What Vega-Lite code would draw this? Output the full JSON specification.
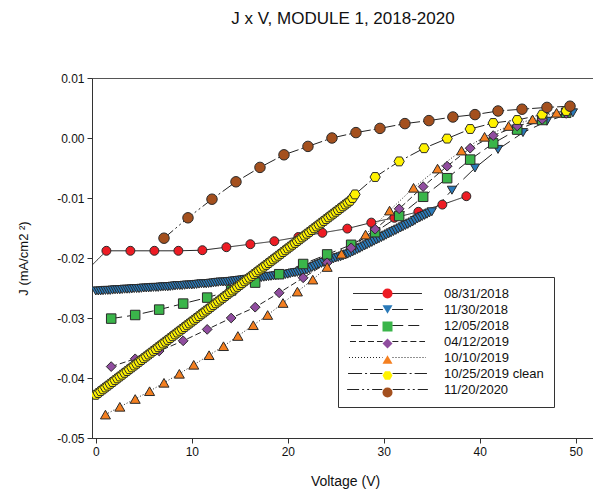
{
  "$schema": "https://vega.github.io/schema/vega-lite/v6.json",
  "autosize": {"type": "none"},
  "padding": {"left": 92, "top": 78, "right": 0, "bottom": 61},
  "width": 502,
  "height": 360,
  "title": {"text": "J x V, MODULE 1, 2018-2020", "fontSize": 17, "fontWeight": "normal", "font": "Liberation Sans", "anchor": "middle", "baseline": "middle", "offset": 36, "color": "#111"},
  "config": {
    "font": "Liberation Sans",
    "view": {"stroke": "#555", "strokeWidth": 1},
    "axis": {"grid": false, "domainColor": "#333", "tickColor": "#333", "labelColor": "#111", "titleColor": "#111", "labelFontSize": 12, "titleFontWeight": "normal", "tickSize": 5, "labelPadding": 3, "labelFont": "Liberation Sans", "titleFont": "Liberation Sans"}
  },
  "data": {"values": [
    {"series": "08/31/2018", "V": -0.4, "J": -0.0212},
    {"series": "08/31/2018", "V": 1.1, "J": -0.0188},
    {"series": "08/31/2018", "V": 3.6, "J": -0.0188},
    {"series": "08/31/2018", "V": 6.1, "J": -0.0188},
    {"series": "08/31/2018", "V": 8.6, "J": -0.0188},
    {"series": "08/31/2018", "V": 11.1, "J": -0.0187},
    {"series": "08/31/2018", "V": 13.6, "J": -0.0182},
    {"series": "08/31/2018", "V": 16.1, "J": -0.0177},
    {"series": "08/31/2018", "V": 18.6, "J": -0.0172},
    {"series": "08/31/2018", "V": 21.1, "J": -0.0165},
    {"series": "08/31/2018", "V": 23.6, "J": -0.0158},
    {"series": "08/31/2018", "V": 26.2, "J": -0.0151},
    {"series": "08/31/2018", "V": 28.7, "J": -0.0141},
    {"series": "08/31/2018", "V": 31.1, "J": -0.0133},
    {"series": "08/31/2018", "V": 33.6, "J": -0.0123},
    {"series": "08/31/2018", "V": 36.1, "J": -0.0111},
    {"series": "08/31/2018", "V": 38.6, "J": -0.0097},

    {"series": "11/30/2018", "V": 0.0, "J": -0.0255},
    {"series": "11/30/2018", "V": 0.25, "J": -0.0255},
    {"series": "11/30/2018", "V": 0.5, "J": -0.0255},
    {"series": "11/30/2018", "V": 0.75, "J": -0.02545},
    {"series": "11/30/2018", "V": 1.0, "J": -0.0254},
    {"series": "11/30/2018", "V": 1.25, "J": -0.0254},
    {"series": "11/30/2018", "V": 1.5, "J": -0.0254},
    {"series": "11/30/2018", "V": 1.75, "J": -0.02535},
    {"series": "11/30/2018", "V": 2.0, "J": -0.0253},
    {"series": "11/30/2018", "V": 2.25, "J": -0.0253},
    {"series": "11/30/2018", "V": 2.5, "J": -0.0253},
    {"series": "11/30/2018", "V": 2.75, "J": -0.02525},
    {"series": "11/30/2018", "V": 3.0, "J": -0.0252},
    {"series": "11/30/2018", "V": 3.25, "J": -0.0252},
    {"series": "11/30/2018", "V": 3.5, "J": -0.0252},
    {"series": "11/30/2018", "V": 3.75, "J": -0.02515},
    {"series": "11/30/2018", "V": 4.0, "J": -0.0251},
    {"series": "11/30/2018", "V": 4.25, "J": -0.0251},
    {"series": "11/30/2018", "V": 4.5, "J": -0.0251},
    {"series": "11/30/2018", "V": 4.75, "J": -0.02505},
    {"series": "11/30/2018", "V": 5.0, "J": -0.0250},
    {"series": "11/30/2018", "V": 5.25, "J": -0.0250},
    {"series": "11/30/2018", "V": 5.5, "J": -0.0250},
    {"series": "11/30/2018", "V": 5.75, "J": -0.02495},
    {"series": "11/30/2018", "V": 6.0, "J": -0.0249},
    {"series": "11/30/2018", "V": 6.25, "J": -0.0249},
    {"series": "11/30/2018", "V": 6.5, "J": -0.0249},
    {"series": "11/30/2018", "V": 6.75, "J": -0.02485},
    {"series": "11/30/2018", "V": 7.0, "J": -0.0248},
    {"series": "11/30/2018", "V": 7.25, "J": -0.0248},
    {"series": "11/30/2018", "V": 7.5, "J": -0.0248},
    {"series": "11/30/2018", "V": 7.75, "J": -0.02475},
    {"series": "11/30/2018", "V": 8.0, "J": -0.0247},
    {"series": "11/30/2018", "V": 8.25, "J": -0.02465},
    {"series": "11/30/2018", "V": 8.5, "J": -0.0246},
    {"series": "11/30/2018", "V": 8.75, "J": -0.0246},
    {"series": "11/30/2018", "V": 9.0, "J": -0.0246},
    {"series": "11/30/2018", "V": 9.25, "J": -0.02455},
    {"series": "11/30/2018", "V": 9.5, "J": -0.0245},
    {"series": "11/30/2018", "V": 9.75, "J": -0.0245},
    {"series": "11/30/2018", "V": 10.0, "J": -0.0245},
    {"series": "11/30/2018", "V": 10.25, "J": -0.02445},
    {"series": "11/30/2018", "V": 10.5, "J": -0.0244},
    {"series": "11/30/2018", "V": 10.75, "J": -0.02435},
    {"series": "11/30/2018", "V": 11.0, "J": -0.0243},
    {"series": "11/30/2018", "V": 11.25, "J": -0.0243},
    {"series": "11/30/2018", "V": 11.5, "J": -0.0243},
    {"series": "11/30/2018", "V": 11.75, "J": -0.02425},
    {"series": "11/30/2018", "V": 12.0, "J": -0.0242},
    {"series": "11/30/2018", "V": 12.25, "J": -0.02415},
    {"series": "11/30/2018", "V": 12.5, "J": -0.0241},
    {"series": "11/30/2018", "V": 12.75, "J": -0.02405},
    {"series": "11/30/2018", "V": 13.0, "J": -0.0240},
    {"series": "11/30/2018", "V": 13.25, "J": -0.0240},
    {"series": "11/30/2018", "V": 13.5, "J": -0.0240},
    {"series": "11/30/2018", "V": 13.75, "J": -0.02395},
    {"series": "11/30/2018", "V": 14.0, "J": -0.0239},
    {"series": "11/30/2018", "V": 14.25, "J": -0.02385},
    {"series": "11/30/2018", "V": 14.5, "J": -0.0238},
    {"series": "11/30/2018", "V": 14.75, "J": -0.02375},
    {"series": "11/30/2018", "V": 15.0, "J": -0.0237},
    {"series": "11/30/2018", "V": 15.25, "J": -0.02365},
    {"series": "11/30/2018", "V": 15.5, "J": -0.0236},
    {"series": "11/30/2018", "V": 15.75, "J": -0.02355},
    {"series": "11/30/2018", "V": 16.0, "J": -0.0235},
    {"series": "11/30/2018", "V": 16.25, "J": -0.02345},
    {"series": "11/30/2018", "V": 16.5, "J": -0.0234},
    {"series": "11/30/2018", "V": 16.75, "J": -0.02335},
    {"series": "11/30/2018", "V": 17.0, "J": -0.0233},
    {"series": "11/30/2018", "V": 17.25, "J": -0.02325},
    {"series": "11/30/2018", "V": 17.5, "J": -0.0232},
    {"series": "11/30/2018", "V": 17.75, "J": -0.02315},
    {"series": "11/30/2018", "V": 18.0, "J": -0.0231},
    {"series": "11/30/2018", "V": 18.25, "J": -0.02305},
    {"series": "11/30/2018", "V": 18.5, "J": -0.0230},
    {"series": "11/30/2018", "V": 18.75, "J": -0.02295},
    {"series": "11/30/2018", "V": 19.0, "J": -0.0229},
    {"series": "11/30/2018", "V": 19.25, "J": -0.02285},
    {"series": "11/30/2018", "V": 19.5, "J": -0.0228},
    {"series": "11/30/2018", "V": 19.75, "J": -0.02275},
    {"series": "11/30/2018", "V": 20.0, "J": -0.0227},
    {"series": "11/30/2018", "V": 20.25, "J": -0.0226},
    {"series": "11/30/2018", "V": 20.5, "J": -0.0225},
    {"series": "11/30/2018", "V": 20.75, "J": -0.02245},
    {"series": "11/30/2018", "V": 21.0, "J": -0.0224},
    {"series": "11/30/2018", "V": 21.25, "J": -0.0223},
    {"series": "11/30/2018", "V": 21.5, "J": -0.0222},
    {"series": "11/30/2018", "V": 21.75, "J": -0.0221},
    {"series": "11/30/2018", "V": 22.0, "J": -0.0220},
    {"series": "11/30/2018", "V": 22.25, "J": -0.0218},
    {"series": "11/30/2018", "V": 22.5, "J": -0.0216},
    {"series": "11/30/2018", "V": 22.75, "J": -0.0214},
    {"series": "11/30/2018", "V": 23.0, "J": -0.0212},
    {"series": "11/30/2018", "V": 23.25, "J": -0.02105},
    {"series": "11/30/2018", "V": 23.5, "J": -0.0209},
    {"series": "11/30/2018", "V": 23.75, "J": -0.02075},
    {"series": "11/30/2018", "V": 24.0, "J": -0.0206},
    {"series": "11/30/2018", "V": 24.25, "J": -0.02045},
    {"series": "11/30/2018", "V": 24.5, "J": -0.0203},
    {"series": "11/30/2018", "V": 24.75, "J": -0.02015},
    {"series": "11/30/2018", "V": 25.0, "J": -0.0200},
    {"series": "11/30/2018", "V": 25.25, "J": -0.0199},
    {"series": "11/30/2018", "V": 25.5, "J": -0.0198},
    {"series": "11/30/2018", "V": 25.75, "J": -0.01965},
    {"series": "11/30/2018", "V": 26.0, "J": -0.0195},
    {"series": "11/30/2018", "V": 26.25, "J": -0.01935},
    {"series": "11/30/2018", "V": 26.5, "J": -0.0192},
    {"series": "11/30/2018", "V": 26.75, "J": -0.0190},
    {"series": "11/30/2018", "V": 27.0, "J": -0.0188},
    {"series": "11/30/2018", "V": 27.25, "J": -0.0186},
    {"series": "11/30/2018", "V": 27.5, "J": -0.0184},
    {"series": "11/30/2018", "V": 27.75, "J": -0.0182},
    {"series": "11/30/2018", "V": 28.0, "J": -0.0180},
    {"series": "11/30/2018", "V": 28.25, "J": -0.0178},
    {"series": "11/30/2018", "V": 28.5, "J": -0.0176},
    {"series": "11/30/2018", "V": 28.75, "J": -0.0174},
    {"series": "11/30/2018", "V": 29.0, "J": -0.0172},
    {"series": "11/30/2018", "V": 29.25, "J": -0.0170},
    {"series": "11/30/2018", "V": 29.5, "J": -0.0168},
    {"series": "11/30/2018", "V": 29.75, "J": -0.0166},
    {"series": "11/30/2018", "V": 30.0, "J": -0.0164},
    {"series": "11/30/2018", "V": 30.25, "J": -0.0162},
    {"series": "11/30/2018", "V": 30.5, "J": -0.0160},
    {"series": "11/30/2018", "V": 30.75, "J": -0.0158},
    {"series": "11/30/2018", "V": 31.0, "J": -0.0156},
    {"series": "11/30/2018", "V": 31.25, "J": -0.0154},
    {"series": "11/30/2018", "V": 31.5, "J": -0.0152},
    {"series": "11/30/2018", "V": 31.75, "J": -0.0150},
    {"series": "11/30/2018", "V": 32.0, "J": -0.0148},
    {"series": "11/30/2018", "V": 32.25, "J": -0.0146},
    {"series": "11/30/2018", "V": 32.5, "J": -0.0144},
    {"series": "11/30/2018", "V": 32.75, "J": -0.0142},
    {"series": "11/30/2018", "V": 33.0, "J": -0.0140},
    {"series": "11/30/2018", "V": 33.25, "J": -0.01375},
    {"series": "11/30/2018", "V": 33.5, "J": -0.0135},
    {"series": "11/30/2018", "V": 33.75, "J": -0.0133},
    {"series": "11/30/2018", "V": 34.0, "J": -0.0131},
    {"series": "11/30/2018", "V": 34.25, "J": -0.0129},
    {"series": "11/30/2018", "V": 34.5, "J": -0.0127},
    {"series": "11/30/2018", "V": 34.75, "J": -0.0125},
    {"series": "11/30/2018", "V": 35.0, "J": -0.0123},
    {"series": "11/30/2018", "V": 37.1, "J": -0.0087},
    {"series": "11/30/2018", "V": 39.5, "J": -0.0050},
    {"series": "11/30/2018", "V": 41.9, "J": -0.0019},
    {"series": "11/30/2018", "V": 44.5, "J": 0.0009},
    {"series": "11/30/2018", "V": 47.0, "J": 0.0028},
    {"series": "11/30/2018", "V": 49.7, "J": 0.0042},

    {"series": "12/05/2018", "V": 1.6, "J": -0.0301},
    {"series": "12/05/2018", "V": 4.1, "J": -0.0295},
    {"series": "12/05/2018", "V": 6.6, "J": -0.0286},
    {"series": "12/05/2018", "V": 9.1, "J": -0.0276},
    {"series": "12/05/2018", "V": 11.6, "J": -0.0266},
    {"series": "12/05/2018", "V": 14.1, "J": -0.0254},
    {"series": "12/05/2018", "V": 16.6, "J": -0.0241},
    {"series": "12/05/2018", "V": 19.1, "J": -0.0227},
    {"series": "12/05/2018", "V": 21.6, "J": -0.0210},
    {"series": "12/05/2018", "V": 24.1, "J": -0.0194},
    {"series": "12/05/2018", "V": 26.6, "J": -0.0178},
    {"series": "12/05/2018", "V": 29.1, "J": -0.0157},
    {"series": "12/05/2018", "V": 31.6, "J": -0.0130},
    {"series": "12/05/2018", "V": 34.1, "J": -0.0098},
    {"series": "12/05/2018", "V": 36.6, "J": -0.0067},
    {"series": "12/05/2018", "V": 39.0, "J": -0.0036},
    {"series": "12/05/2018", "V": 41.4, "J": -0.0009},
    {"series": "12/05/2018", "V": 43.9, "J": 0.0014},
    {"series": "12/05/2018", "V": 46.5, "J": 0.0030},
    {"series": "12/05/2018", "V": 49.0, "J": 0.0042},

    {"series": "04/12/2019", "V": 1.6, "J": -0.0381},
    {"series": "04/12/2019", "V": 4.1, "J": -0.0368},
    {"series": "04/12/2019", "V": 6.6, "J": -0.0355},
    {"series": "04/12/2019", "V": 9.1, "J": -0.0338},
    {"series": "04/12/2019", "V": 11.6, "J": -0.0319},
    {"series": "04/12/2019", "V": 14.1, "J": -0.0300},
    {"series": "04/12/2019", "V": 16.6, "J": -0.0282},
    {"series": "04/12/2019", "V": 19.1, "J": -0.0258},
    {"series": "04/12/2019", "V": 21.6, "J": -0.0233},
    {"series": "04/12/2019", "V": 24.1, "J": -0.0208},
    {"series": "04/12/2019", "V": 26.6, "J": -0.0183},
    {"series": "04/12/2019", "V": 29.1, "J": -0.0152},
    {"series": "04/12/2019", "V": 31.6, "J": -0.0118},
    {"series": "04/12/2019", "V": 34.1, "J": -0.0081},
    {"series": "04/12/2019", "V": 36.6, "J": -0.0047},
    {"series": "04/12/2019", "V": 39.0, "J": -0.0017},
    {"series": "04/12/2019", "V": 41.4, "J": 0.0004},
    {"series": "04/12/2019", "V": 43.9, "J": 0.0020},
    {"series": "04/12/2019", "V": 46.5, "J": 0.0031},
    {"series": "04/12/2019", "V": 49.0, "J": 0.0041},

    {"series": "10/10/2019", "V": 1.0, "J": -0.0461},
    {"series": "10/10/2019", "V": 2.5, "J": -0.0448},
    {"series": "10/10/2019", "V": 4.1, "J": -0.0435},
    {"series": "10/10/2019", "V": 5.6, "J": -0.0422},
    {"series": "10/10/2019", "V": 7.1, "J": -0.0408},
    {"series": "10/10/2019", "V": 8.7, "J": -0.0393},
    {"series": "10/10/2019", "V": 10.2, "J": -0.0378},
    {"series": "10/10/2019", "V": 11.8, "J": -0.0362},
    {"series": "10/10/2019", "V": 13.3, "J": -0.0347},
    {"series": "10/10/2019", "V": 14.8, "J": -0.0330},
    {"series": "10/10/2019", "V": 16.4, "J": -0.0312},
    {"series": "10/10/2019", "V": 17.9, "J": -0.0295},
    {"series": "10/10/2019", "V": 19.5, "J": -0.0275},
    {"series": "10/10/2019", "V": 21.0, "J": -0.0256},
    {"series": "10/10/2019", "V": 22.6, "J": -0.0236},
    {"series": "10/10/2019", "V": 24.1, "J": -0.0215},
    {"series": "10/10/2019", "V": 25.6, "J": -0.0193},
    {"series": "10/10/2019", "V": 28.1, "J": -0.0161},
    {"series": "10/10/2019", "V": 30.6, "J": -0.0121},
    {"series": "10/10/2019", "V": 33.1, "J": -0.0083},
    {"series": "10/10/2019", "V": 35.6, "J": -0.0051},
    {"series": "10/10/2019", "V": 38.1, "J": -0.0021},
    {"series": "10/10/2019", "V": 40.5, "J": 0.0002},
    {"series": "10/10/2019", "V": 43.0, "J": 0.0020},
    {"series": "10/10/2019", "V": 45.5, "J": 0.0031},
    {"series": "10/10/2019", "V": 48.0, "J": 0.0042},

    {"series": "10/25/2019 clean", "V": 0.0, "J": -0.0428},
    {"series": "10/25/2019 clean", "V": 0.25, "J": -0.04250},
    {"series": "10/25/2019 clean", "V": 0.5, "J": -0.04219},
    {"series": "10/25/2019 clean", "V": 0.75, "J": -0.04189},
    {"series": "10/25/2019 clean", "V": 1.0, "J": -0.04158},
    {"series": "10/25/2019 clean", "V": 1.25, "J": -0.04128},
    {"series": "10/25/2019 clean", "V": 1.5, "J": -0.04097},
    {"series": "10/25/2019 clean", "V": 1.75, "J": -0.04067},
    {"series": "10/25/2019 clean", "V": 2.0, "J": -0.04036},
    {"series": "10/25/2019 clean", "V": 2.25, "J": -0.04006},
    {"series": "10/25/2019 clean", "V": 2.5, "J": -0.03975},
    {"series": "10/25/2019 clean", "V": 2.75, "J": -0.03945},
    {"series": "10/25/2019 clean", "V": 3.0, "J": -0.03914},
    {"series": "10/25/2019 clean", "V": 3.25, "J": -0.03884},
    {"series": "10/25/2019 clean", "V": 3.5, "J": -0.03853},
    {"series": "10/25/2019 clean", "V": 3.75, "J": -0.03823},
    {"series": "10/25/2019 clean", "V": 4.0, "J": -0.03792},
    {"series": "10/25/2019 clean", "V": 4.25, "J": -0.03762},
    {"series": "10/25/2019 clean", "V": 4.5, "J": -0.03731},
    {"series": "10/25/2019 clean", "V": 4.75, "J": -0.03701},
    {"series": "10/25/2019 clean", "V": 5.0, "J": -0.03670},
    {"series": "10/25/2019 clean", "V": 5.25, "J": -0.03640},
    {"series": "10/25/2019 clean", "V": 5.5, "J": -0.03609},
    {"series": "10/25/2019 clean", "V": 5.75, "J": -0.03579},
    {"series": "10/25/2019 clean", "V": 6.0, "J": -0.03548},
    {"series": "10/25/2019 clean", "V": 6.25, "J": -0.03518},
    {"series": "10/25/2019 clean", "V": 6.5, "J": -0.03487},
    {"series": "10/25/2019 clean", "V": 6.75, "J": -0.03457},
    {"series": "10/25/2019 clean", "V": 7.0, "J": -0.03426},
    {"series": "10/25/2019 clean", "V": 7.25, "J": -0.03396},
    {"series": "10/25/2019 clean", "V": 7.5, "J": -0.03365},
    {"series": "10/25/2019 clean", "V": 7.75, "J": -0.03335},
    {"series": "10/25/2019 clean", "V": 8.0, "J": -0.03304},
    {"series": "10/25/2019 clean", "V": 8.25, "J": -0.03274},
    {"series": "10/25/2019 clean", "V": 8.5, "J": -0.03243},
    {"series": "10/25/2019 clean", "V": 8.75, "J": -0.03213},
    {"series": "10/25/2019 clean", "V": 9.0, "J": -0.03182},
    {"series": "10/25/2019 clean", "V": 9.25, "J": -0.03152},
    {"series": "10/25/2019 clean", "V": 9.5, "J": -0.03121},
    {"series": "10/25/2019 clean", "V": 9.75, "J": -0.03091},
    {"series": "10/25/2019 clean", "V": 10.0, "J": -0.03060},
    {"series": "10/25/2019 clean", "V": 10.25, "J": -0.03030},
    {"series": "10/25/2019 clean", "V": 10.5, "J": -0.02999},
    {"series": "10/25/2019 clean", "V": 10.75, "J": -0.02969},
    {"series": "10/25/2019 clean", "V": 11.0, "J": -0.02938},
    {"series": "10/25/2019 clean", "V": 11.25, "J": -0.02908},
    {"series": "10/25/2019 clean", "V": 11.5, "J": -0.02877},
    {"series": "10/25/2019 clean", "V": 11.75, "J": -0.02847},
    {"series": "10/25/2019 clean", "V": 12.0, "J": -0.02816},
    {"series": "10/25/2019 clean", "V": 12.25, "J": -0.02786},
    {"series": "10/25/2019 clean", "V": 12.5, "J": -0.02755},
    {"series": "10/25/2019 clean", "V": 12.75, "J": -0.02725},
    {"series": "10/25/2019 clean", "V": 13.0, "J": -0.02694},
    {"series": "10/25/2019 clean", "V": 13.25, "J": -0.02664},
    {"series": "10/25/2019 clean", "V": 13.5, "J": -0.02633},
    {"series": "10/25/2019 clean", "V": 13.75, "J": -0.02603},
    {"series": "10/25/2019 clean", "V": 14.0, "J": -0.02572},
    {"series": "10/25/2019 clean", "V": 14.25, "J": -0.02542},
    {"series": "10/25/2019 clean", "V": 14.5, "J": -0.02511},
    {"series": "10/25/2019 clean", "V": 14.75, "J": -0.02481},
    {"series": "10/25/2019 clean", "V": 15.0, "J": -0.02450},
    {"series": "10/25/2019 clean", "V": 15.25, "J": -0.02420},
    {"series": "10/25/2019 clean", "V": 15.5, "J": -0.02389},
    {"series": "10/25/2019 clean", "V": 15.75, "J": -0.02359},
    {"series": "10/25/2019 clean", "V": 16.0, "J": -0.02328},
    {"series": "10/25/2019 clean", "V": 16.25, "J": -0.02298},
    {"series": "10/25/2019 clean", "V": 16.5, "J": -0.02267},
    {"series": "10/25/2019 clean", "V": 16.75, "J": -0.02237},
    {"series": "10/25/2019 clean", "V": 17.0, "J": -0.02206},
    {"series": "10/25/2019 clean", "V": 17.25, "J": -0.02176},
    {"series": "10/25/2019 clean", "V": 17.5, "J": -0.02145},
    {"series": "10/25/2019 clean", "V": 17.75, "J": -0.02115},
    {"series": "10/25/2019 clean", "V": 18.0, "J": -0.02084},
    {"series": "10/25/2019 clean", "V": 18.25, "J": -0.02054},
    {"series": "10/25/2019 clean", "V": 18.5, "J": -0.02023},
    {"series": "10/25/2019 clean", "V": 18.75, "J": -0.01993},
    {"series": "10/25/2019 clean", "V": 19.0, "J": -0.01962},
    {"series": "10/25/2019 clean", "V": 19.25, "J": -0.01932},
    {"series": "10/25/2019 clean", "V": 19.5, "J": -0.01901},
    {"series": "10/25/2019 clean", "V": 19.75, "J": -0.01871},
    {"series": "10/25/2019 clean", "V": 20.0, "J": -0.01840},
    {"series": "10/25/2019 clean", "V": 20.25, "J": -0.01810},
    {"series": "10/25/2019 clean", "V": 20.5, "J": -0.01779},
    {"series": "10/25/2019 clean", "V": 20.75, "J": -0.01749},
    {"series": "10/25/2019 clean", "V": 21.0, "J": -0.01718},
    {"series": "10/25/2019 clean", "V": 21.25, "J": -0.01688},
    {"series": "10/25/2019 clean", "V": 21.5, "J": -0.01657},
    {"series": "10/25/2019 clean", "V": 21.75, "J": -0.01627},
    {"series": "10/25/2019 clean", "V": 22.0, "J": -0.01596},
    {"series": "10/25/2019 clean", "V": 22.25, "J": -0.01566},
    {"series": "10/25/2019 clean", "V": 22.5, "J": -0.01535},
    {"series": "10/25/2019 clean", "V": 22.75, "J": -0.01505},
    {"series": "10/25/2019 clean", "V": 23.0, "J": -0.01474},
    {"series": "10/25/2019 clean", "V": 23.25, "J": -0.01444},
    {"series": "10/25/2019 clean", "V": 23.5, "J": -0.01413},
    {"series": "10/25/2019 clean", "V": 23.75, "J": -0.01383},
    {"series": "10/25/2019 clean", "V": 24.0, "J": -0.01352},
    {"series": "10/25/2019 clean", "V": 24.25, "J": -0.01322},
    {"series": "10/25/2019 clean", "V": 24.5, "J": -0.01291},
    {"series": "10/25/2019 clean", "V": 24.75, "J": -0.01261},
    {"series": "10/25/2019 clean", "V": 25.0, "J": -0.01230},
    {"series": "10/25/2019 clean", "V": 25.25, "J": -0.01200},
    {"series": "10/25/2019 clean", "V": 25.5, "J": -0.01169},
    {"series": "10/25/2019 clean", "V": 25.75, "J": -0.01139},
    {"series": "10/25/2019 clean", "V": 26.0, "J": -0.01108},
    {"series": "10/25/2019 clean", "V": 26.25, "J": -0.01078},
    {"series": "10/25/2019 clean", "V": 26.5, "J": -0.01047},
    {"series": "10/25/2019 clean", "V": 26.75, "J": -0.01000},
    {"series": "10/25/2019 clean", "V": 27.0, "J": -0.0094},
    {"series": "10/25/2019 clean", "V": 29.1, "J": -0.0065},
    {"series": "10/25/2019 clean", "V": 31.6, "J": -0.0039},
    {"series": "10/25/2019 clean", "V": 34.2, "J": -0.0017},
    {"series": "10/25/2019 clean", "V": 36.6, "J": -0.0001},
    {"series": "10/25/2019 clean", "V": 39.0, "J": 0.0015},
    {"series": "10/25/2019 clean", "V": 41.4, "J": 0.0025},
    {"series": "10/25/2019 clean", "V": 43.9, "J": 0.0030},
    {"series": "10/25/2019 clean", "V": 46.5, "J": 0.0039},
    {"series": "10/25/2019 clean", "V": 49.0, "J": 0.0045},

    {"series": "11/20/2020", "V": 7.1, "J": -0.0167},
    {"series": "11/20/2020", "V": 9.6, "J": -0.0133},
    {"series": "11/20/2020", "V": 12.1, "J": -0.0102},
    {"series": "11/20/2020", "V": 14.6, "J": -0.0073},
    {"series": "11/20/2020", "V": 17.1, "J": -0.0049},
    {"series": "11/20/2020", "V": 19.6, "J": -0.0028},
    {"series": "11/20/2020", "V": 22.1, "J": -0.0014},
    {"series": "11/20/2020", "V": 24.6, "J": 0.0000},
    {"series": "11/20/2020", "V": 27.1, "J": 0.0009},
    {"series": "11/20/2020", "V": 29.6, "J": 0.0016},
    {"series": "11/20/2020", "V": 32.2, "J": 0.0024},
    {"series": "11/20/2020", "V": 34.7, "J": 0.0029},
    {"series": "11/20/2020", "V": 37.2, "J": 0.0035},
    {"series": "11/20/2020", "V": 39.5, "J": 0.0039},
    {"series": "11/20/2020", "V": 41.9, "J": 0.0045},
    {"series": "11/20/2020", "V": 44.4, "J": 0.0048},
    {"series": "11/20/2020", "V": 47.0, "J": 0.0051},
    {"series": "11/20/2020", "V": 49.4, "J": 0.0053}
  ]},
  "encoding": {
    "x": {"field": "V", "type": "quantitative", "scale": {"domain": [-0.4, 51.9], "nice": false, "zero": false},
      "axis": {"values": [0, 10, 20, 30, 40, 50], "format": "d", "title": "Voltage (V)", "titleFontSize": 14, "titleX": 253, "titleY": 43, "titleBaseline": "middle"}},
    "y": {"field": "J", "type": "quantitative", "scale": {"domain": [-0.05, 0.01], "nice": false, "zero": false},
      "axis": {"values": [-0.05, -0.04, -0.03, -0.02, -0.01, 0, 0.01], "labelExpr": "replace(format(datum.value, '.2f'), '\u2212', '-')", "title": "J (mA/cm2 \u00b2)", "titleFontSize": 13, "titleX": -69, "titleY": 180, "titleAngle": -90, "titleBaseline": "middle", "titleAlign": "center"}}
  },
  "layer": [
    {
      "mark": {"type": "line", "color": "#222", "strokeWidth": 1, "clip": true},
      "encoding": {
        "strokeDash": {"field": "series", "type": "nominal",
          "scale": {"domain": ["08/31/2018", "11/30/2018", "12/05/2018", "04/12/2019", "10/10/2019", "10/25/2019 clean", "11/20/2020"],
                    "range": [[1, 0], [16, 6], [11, 5], [6, 3], [1, 2], [14, 3, 2, 3], [12, 3, 2, 3, 2, 3]]},
          "legend": {"orient": "none", "legendX": 246, "legendY": 199, "title": null, "padding": 10,
            "symbolType": "M-7.7,0H-1M1,0H7.7", "symbolSize": 100, "symbolStrokeColor": "#222", "symbolStrokeWidth": 1,
            "symbolOffset": 33, "labelOffset": 50, "labelFontSize": 13, "labelFont": "Liberation Sans", "labelColor": "#111",
            "rowPadding": 2, "strokeColor": "#333", "cornerRadius": 0}}
      }
    },
    {
      "transform": [{"filter": "datum.V >= 0"}],
      "mark": {"type": "point", "filled": true, "opacity": 1, "stroke": "#2a2a2a", "strokeWidth": 1, "clip": true},
      "encoding": {
        "shape": {"field": "series", "type": "nominal",
          "scale": {"domain": ["08/31/2018", "11/30/2018", "12/05/2018", "04/12/2019", "10/10/2019", "10/25/2019 clean", "11/20/2020"],
                    "range": ["circle", "triangle-down", "square", "diamond", "triangle-up", "M-1,0L-0.5,-0.866L0.5,-0.866L1,0L0.5,0.866L-0.5,0.866Z", "circle"]},
          "legend": {"orient": "top-left", "offset": 200, "title": null, "padding": 9, "symbolSize": 100,
            "symbolStrokeColor": "#2a2a2a", "symbolStrokeWidth": 1, "symbolOffset": 80, "labelOffset": 54, "labelFontSize": 13,
            "labelOpacity": 0, "rowPadding": 2}},
        "fill": {"field": "series", "type": "nominal",
          "scale": {"domain": ["08/31/2018", "11/30/2018", "12/05/2018", "04/12/2019", "10/10/2019", "10/25/2019 clean", "11/20/2020"],
                    "range": ["#ed1c24", "#2a7ab9", "#3ab54a", "#904d9f", "#f47f20", "#fff200", "#a4501e"]},
          "legend": {"orient": "top-left", "offset": 200, "title": null, "padding": 9, "symbolSize": 100,
            "symbolStrokeColor": "#2a2a2a", "symbolStrokeWidth": 1, "symbolOffset": 80, "labelOffset": 54, "labelFontSize": 13,
            "labelOpacity": 0, "rowPadding": 2}},
        "size": {"field": "series", "type": "nominal",
          "scale": {"domain": ["08/31/2018", "11/30/2018", "12/05/2018", "04/12/2019", "10/10/2019", "10/25/2019 clean", "11/20/2020"],
                    "range": [80, 110, 70, 130, 110, 90, 100]},
          "legend": null}
      }
    }
  ]
}
